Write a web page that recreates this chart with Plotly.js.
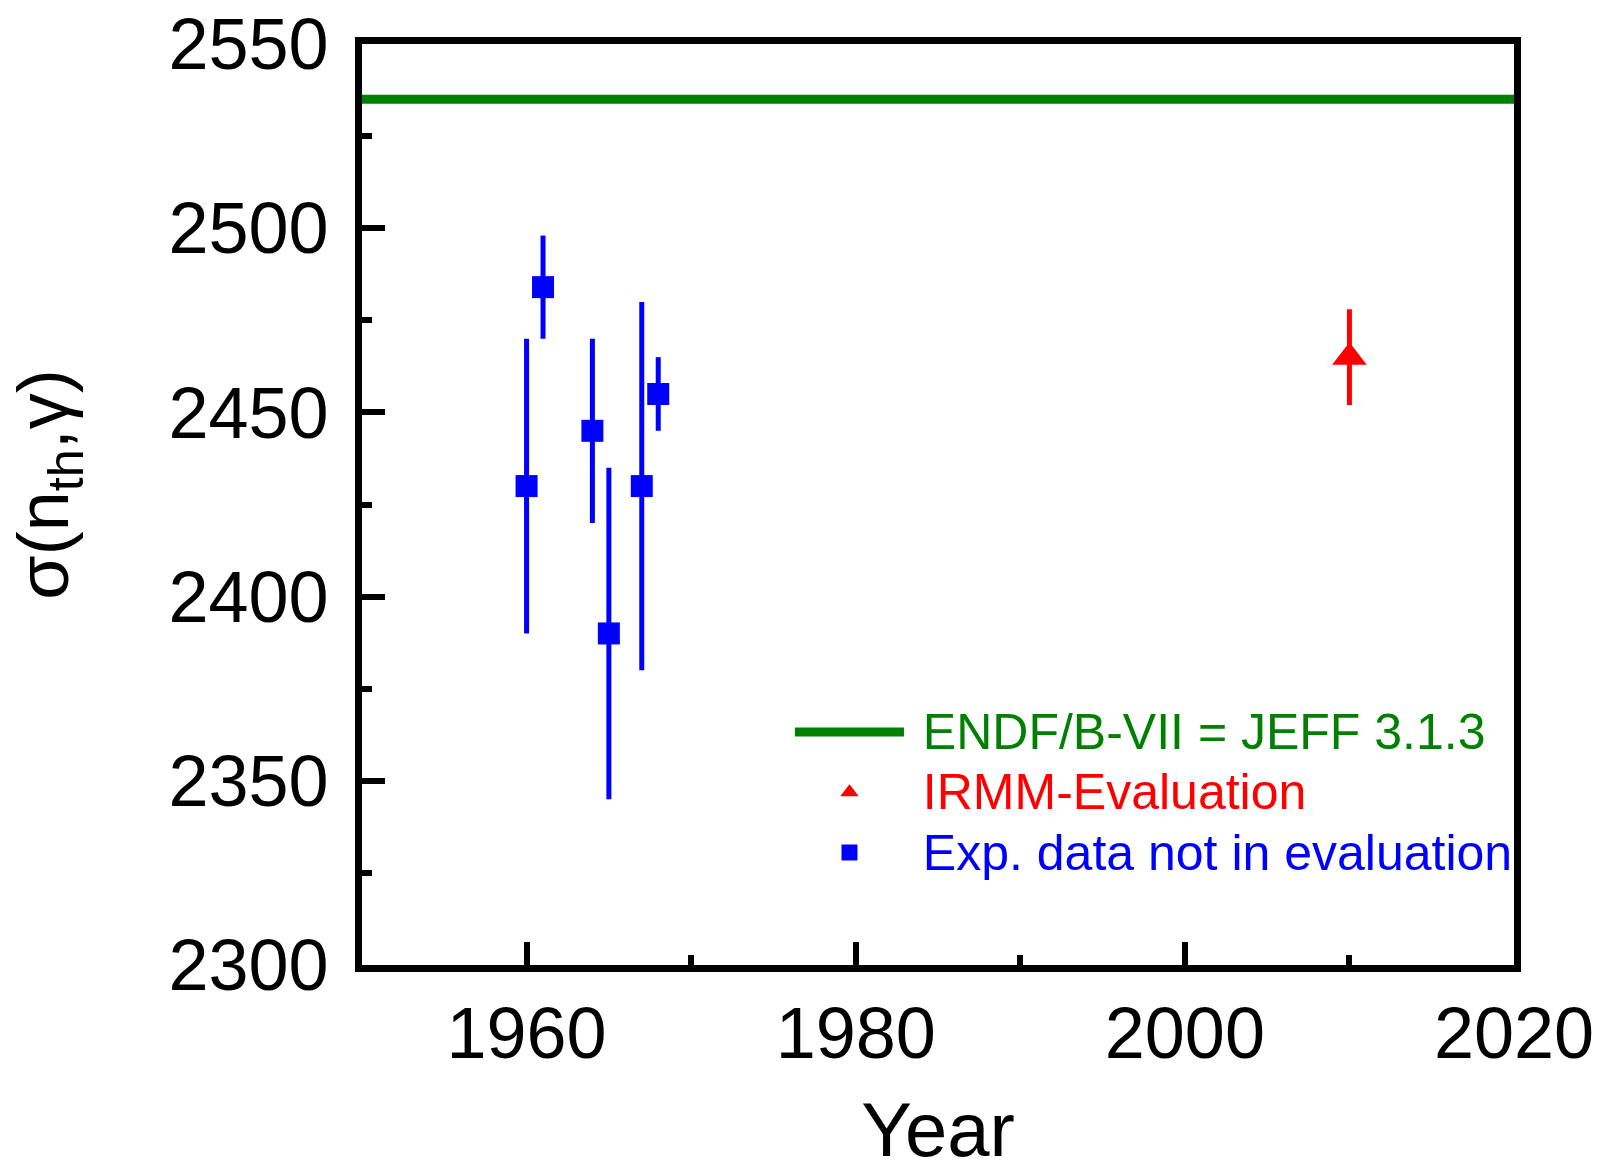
<!DOCTYPE html>
<html>
<head>
<meta charset="utf-8">
<script src="https://cdn.plot.ly/plotly-3.0.1.min.js"></script>
<style>
  html, body { margin: 0; padding: 0; background: #ffffff; }
  #chart { width: 1602px; height: 1172px; }
</style>
</head>
<body>
<div id="chart"></div>
<script>
// ---- Data ----
const endfYears = [1950, 2020];
const endfValues = [2535, 2535];

const irmmYears = [2010];
const irmmValues = [2465];
const irmmErrors = [13];

const expYears = [1960, 1961, 1964, 1965, 1967, 1968];
const expValues = [2430, 2484, 2445, 2390, 2430, 2455];
const expErrors = [40, 14, 25, 45, 50, 10];

const xTickVals = [1960, 1980, 2000, 2020];
const xTickText = ['1960', '1980', '2000', '2020'];
const xMinorTicks = [1970, 1990, 2010];
const yTickVals = [2300, 2350, 2400, 2450, 2500, 2550];
const yTickText = ['2300', '2350', '2400', '2450', '2500', '2550'];
const yMinorTicks = [2325, 2375, 2425, 2475, 2525];

const FONT = '"Liberation Sans", Arial, Helvetica, sans-serif';

function legendName(text, color) {
  return '<span style="color:' + color + ';font-size:50px">&nbsp;' + text + '</span>';
}

const traces = [
  {
    type: 'scatter', mode: 'lines',
    x: endfYears, y: endfValues,
    name: legendName('ENDF/B-VII = JEFF 3.1.3', '#008000'),
    line: { color: '#008000', width: 9 },
    hoverinfo: 'skip'
  },
  {
    type: 'scatter', mode: 'markers',
    x: irmmYears, y: irmmValues,
    name: legendName('IRMM-Evaluation', '#ff0000'),
    marker: { symbol: 'triangle-up', size: 30, color: '#ff0000' },
    error_y: { type: 'data', array: irmmErrors, visible: true, color: '#ff0000', thickness: 5, width: 0 }
  },
  {
    type: 'scatter', mode: 'markers',
    x: expYears, y: expValues,
    name: legendName('Exp. data not in evaluation', '#0000ff'),
    marker: { symbol: 'square', size: 22, color: '#0000ff' },
    error_y: { type: 'data', array: expErrors, visible: true, color: '#0000ff', thickness: 5, width: 0 }
  }
];

const axisCommon = {
  showgrid: false, zeroline: false,
  showline: true, linecolor: '#000000', linewidth: 7, mirror: true,
  ticks: 'inside', ticklen: 23, tickwidth: 6, tickcolor: '#000000',
  tickfont: { family: FONT, size: 72, color: '#000000' },
  tickmode: 'array'
};

const layout = {
  width: 1602, height: 1172,
  paper_bgcolor: '#ffffff', plot_bgcolor: '#ffffff',
  font: { family: FONT, color: '#000000' },
  margin: { l: 362, r: 88, t: 44, b: 207 },
  showlegend: true,
  legend: {
    x: 0.3715, y: 0.291, xanchor: 'left', yanchor: 'top',
    bgcolor: 'rgba(0,0,0,0)', borderwidth: 0,
    font: { family: FONT, size: 44 },
    itemwidth: 109,
    tracegroupgap: 0
  },
  xaxis: Object.assign({}, axisCommon, {
    range: [1950, 2020],
    tickvals: xTickVals, ticktext: xTickText,
    minor: { tickmode: 'array', tickvals: xMinorTicks, ticks: 'inside', ticklen: 10, tickwidth: 6, tickcolor: '#000000', showgrid: false },
    title: { text: 'Year', font: { family: FONT, size: 76, color: '#000000' }, standoff: 68 }
  }),
  yaxis: Object.assign({}, axisCommon, {
    range: [2300, 2550],
    tickvals: yTickVals, ticktext: yTickText,
    ticklabelstandoff: 12,
    minor: { tickmode: 'array', tickvals: yMinorTicks, ticks: 'inside', ticklen: 10, tickwidth: 6, tickcolor: '#000000', showgrid: false },
    title: { text: '&nbsp;&nbsp;σ(n<sub>th</sub>,γ)', font: { family: FONT, size: 72, color: '#000000' }, standoff: 79 }
  })
};

Plotly.newPlot('chart', traces, layout, { staticPlot: true, displayModeBar: false });
</script>
</body>
</html>
